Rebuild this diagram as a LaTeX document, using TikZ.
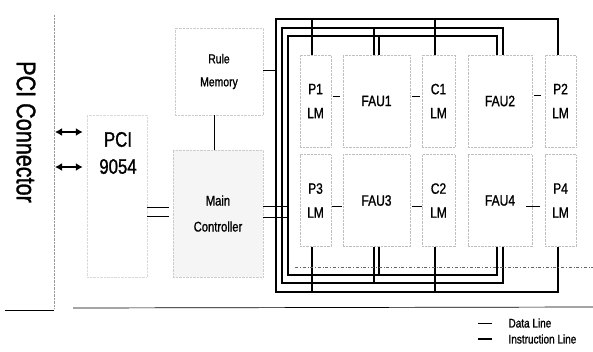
\documentclass[tikz,border=0pt]{standalone}
\usepackage{fontspec}
\setmainfont{Liberation Sans}[FakeStretch=0.8, FakeBold=1.2]
\usetikzlibrary{arrows.meta}

\begin{document}
\begin{tikzpicture}[
    x=1pt, y=-1pt,
    module/.style={
        draw=black!25,
        densely dotted,
        minimum height=92pt,
        inner sep=0pt,
        align=center,
        font=\fontsize{15}{24}\selectfont
    },
    unit/.style={
        draw=black!20,
        densely dotted,
        inner sep=0pt,
        align=center,
        font=\fontsize{14}{26}\selectfont
    },
    bus/.style={draw, line width=1.4pt},
    dataline/.style={draw, line width=0.7pt},
    pcilink/.style={draw, line width=2pt,
        {Latex[length=7pt,width=8pt]}-{Latex[length=7pt,width=8pt]}},
    boundary/.style={draw, line width=0.7pt}
]
    \useasboundingbox (0,0) rectangle (593,351);

    % PCI side
    \node[rotate=-90, font=\fontsize{27}{30}\selectfont] (connector) at (26,132) {PCI Connector};
    \coordinate (slottop) at (54,15);
    \coordinate (slotbottom) at (54,309);
    \draw[black!40, densely dotted] (slottop) -- (slotbottom);

    \node[unit, draw=black!15, minimum width=60pt, minimum height=162pt] (bridge) at (117,196) {};
    \node[font=\fontsize{21}{27}\selectfont, align=center] (bridgelabel) at (118,153) {PCI\\9054};
    \coordinate (slota) at (55,132);
    \coordinate (slotb) at (55,167);
    \draw[pcilink, shorten >=4pt] (slota) -- (slota -| bridge.west);
    \draw[pcilink, shorten >=4pt] (slotb) -- (slotb -| bridge.west);

    % controller and rule memory
    \node[unit, fill=black!4, minimum width=90pt, minimum height=127pt] (controller) at (218,213.5)
        {Main\\Controller};
    \node[unit, minimum width=88pt, minimum height=87pt, font=\fontsize{13}{23}\selectfont] (rulemem)
        at (219,71.5) {Rule\\Memory};
    \draw[dataline] ([xshift=-5pt]rulemem.south) -- ([xshift=-4pt]controller.north);
    \draw[bus, shorten <=4pt] ([yshift=6pt]controller.west) -- ([yshift=6pt]controller.west -| bridge.east);
    \draw[bus, shorten <=4pt] ([yshift=-3pt]controller.west) -- ([yshift=-3pt]controller.west -| bridge.east);

    % processing modules
    \node[module, minimum width=31pt] (pone) at (315.5,101) {P1\\LM};
    \node[module, minimum width=67pt] (fauone) at (376.5,101) {FAU1};
    \node[module, minimum width=33pt] (cone) at (438.5,101) {C1\\LM};
    \node[module, minimum width=64pt] (fautwo) at (500,101) {FAU2};
    \node[module, minimum width=31pt] (ptwo) at (560.5,101) {P2\\LM};

    \node[module, minimum width=31pt] (pthree) at (315.5,200.5) {P3\\LM};
    \node[module, minimum width=67pt] (fauthree) at (376.5,200.5) {FAU3};
    \node[module, minimum width=33pt] (ctwo) at (438.5,200.5) {C2\\LM};
    \node[module, minimum width=64pt] (faufour) at (500,200.5) {FAU4};
    \node[module, minimum width=31pt] (pfour) at (560.5,200.5) {P4\\LM};

    \draw[dataline, shorten <=2pt, shorten >=3pt] ([yshift=5pt]pone.east) -- ([yshift=5pt]fauone.west);
    \draw[dataline, shorten <=2pt, shorten >=2pt] ([yshift=5pt]fauone.east) -- ([yshift=5pt]cone.west);
    \draw[dataline, shorten <=2pt, shorten >=4pt] ([yshift=6pt]fautwo.east) -- ([yshift=6pt]ptwo.west);
    \draw[dataline, shorten <=1pt, shorten >=1pt] ([yshift=-5.5pt]pthree.east) -- ([yshift=-5.5pt]fauthree.west);
    \draw[dataline, shorten <=2pt, shorten >=0pt] ([yshift=-5.5pt]fauthree.east) -- ([yshift=-5.5pt]ctwo.west);
    \draw[dataline, shorten <=-6pt, shorten >=5pt] ([yshift=-5.5pt]faufour.east) -- ([yshift=-5.5pt]pfour.west);

    % instruction buses
    \coordinate (outernw) at (276,19);
    \coordinate (outersw) at (276,292);
    \coordinate (midnw) at (282,28);
    \coordinate (midsw) at (282,283);
    \coordinate (innernw) at (288,36);
    \coordinate (innersw) at (288,275);

    \draw[bus] ([xshift=-2.5pt]ptwo.north) |- (outernw) -- (outersw) -| ([xshift=-2.5pt]pfour.south);
    \draw[bus] ([xshift=3pt]fautwo.north) |- (midnw) -- (midsw) -| ([xshift=3pt]faufour.south);
    \draw[bus] ([xshift=-3pt]fautwo.north) |- (innernw) -- (innersw) -| ([xshift=-3pt]faufour.south);

    \draw[bus] ([xshift=-3.5pt]pone.north) -- ([xshift=-3.5pt]pone.north |- outernw);
    \draw[bus] ([xshift=-2.5pt]fauone.north) -- ([xshift=-2.5pt]fauone.north |- midnw);
    \draw[bus] ([xshift=2.5pt]fauone.north) -- ([xshift=2.5pt]fauone.north |- innernw);
    \draw[bus] ([xshift=-3.5pt]cone.north) -- ([xshift=-3.5pt]cone.north |- outernw);
    \draw[bus] ([xshift=-3.5pt]pthree.south) -- ([xshift=-3.5pt]pthree.south |- outersw);
    \draw[bus] ([xshift=-2.5pt]fauthree.south) -- ([xshift=-2.5pt]fauthree.south |- midsw);
    \draw[bus] ([xshift=2.5pt]fauthree.south) -- ([xshift=2.5pt]fauthree.south |- innersw);
    \draw[bus] ([xshift=-3.5pt]ctwo.south) -- ([xshift=-3.5pt]ctwo.south |- outersw);

    \draw[dataline] ([yshift=1.5pt]rulemem.east) -- ([yshift=1.5pt]rulemem.east -| outernw);
    \draw[line width=1pt] ([yshift=7.5pt]controller.east) -- ([yshift=7.5pt]controller.east -| innernw);
    \draw[line width=1pt] ([yshift=-3.5pt]controller.east) -- ([yshift=-3.5pt]controller.east -| innernw);

    % board edges
    \coordinate (framew) at (295,267);
    \coordinate (framee) at (593,267);
    \draw[black!60, line width=0.6pt, dash dot] (framew) -- (framee);
    \coordinate (edgea) at (5,310);
    \coordinate (edgeb) at (73,308);
    \coordinate (edgec) at (593,307);
    \draw[boundary] (edgea) -- (slotbottom |- edgea);
    \draw[boundary] (edgeb) -- (edgec);

    % legend
    \node[anchor=west, font=\fontsize{12.5}{14}\selectfont] (datalabel) at (505,323) {Data Line};
    \node[anchor=west, font=\fontsize{12.5}{14}\selectfont] (instrlabel) at (505,339) {Instruction Line};
    \draw[dataline] ([xshift=-27pt]datalabel.west) -- ++(14,0);
    \draw[bus] ([xshift=-27pt]instrlabel.west) -- ++(14,0);
\end{tikzpicture}
\end{document}
